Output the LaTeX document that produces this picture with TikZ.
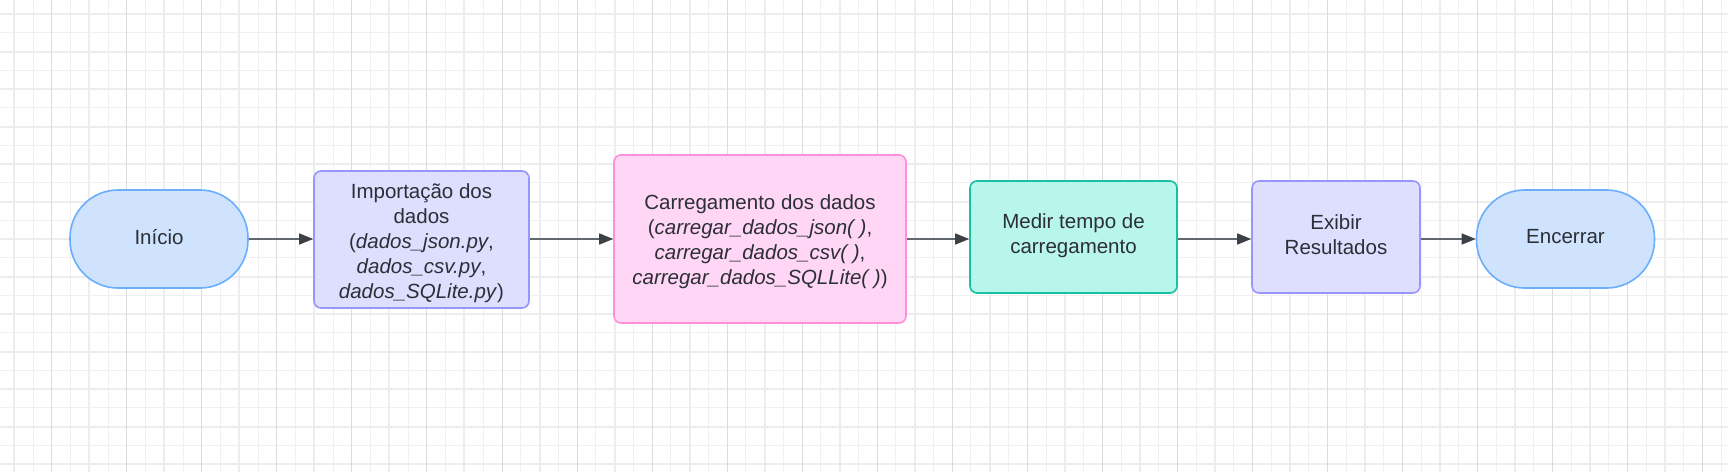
\documentclass[tikz,border=0pt]{standalone}
\usepackage{fontspec}
\setmainfont{Liberation Sans}
\usetikzlibrary{arrows.meta}
\definecolor{gthin}{HTML}{F0F0F0}
\definecolor{gthick}{HTML}{EDEDED}
\definecolor{gdark}{HTML}{DCDCDC}
\definecolor{txt}{HTML}{2B2F36}
\definecolor{bluefill}{HTML}{CFE3FF}
\definecolor{bluedraw}{HTML}{6AAEFC}
\definecolor{purfill}{HTML}{DEDEFF}
\definecolor{purdraw}{HTML}{9896FA}
\definecolor{pinkfill}{HTML}{FFD6F5}
\definecolor{pinkdraw}{HTML}{FF8FDA}
\definecolor{tealfill}{HTML}{B8F5EA}
\definecolor{tealdraw}{HTML}{16C2A2}
\definecolor{lineg}{HTML}{62666D}
\definecolor{tipg}{HTML}{3C4148}
\tikzset{
  base/.style={draw, line width=1.6pt, inner sep=0pt},
  lbl/.style={text=txt, align=center, inner sep=0pt,
    font=\fontsize{20.5}{25}\selectfont},
  terminal/.style={base, fill=bluefill, draw=bluedraw, rounded corners=48pt,
    minimum width=178pt, minimum height=98pt},
  purbox/.style={base, fill=purfill, draw=purdraw, rounded corners=7pt},
  pinkbox/.style={base, fill=pinkfill, draw=pinkdraw, rounded corners=7pt},
  tealbox/.style={base, fill=tealfill, draw=tealdraw, rounded corners=7pt},
  conn/.style={draw=lineg, line width=1.5pt,
    -{Triangle[length=14pt,width=11pt,color=tipg]}}
}
\begin{document}
\begin{tikzpicture}[x=1pt,y=-1pt]
\useasboundingbox (0,0) rectangle (1728,472);
\fill[white] (0,0) rectangle (1728,472);
% grid
\foreach \k in {1,3,...,91}{\draw[gthin, line width=1pt] ({14.3+18.758*\k},0) -- ({14.3+18.758*\k},472);}
\foreach \k in {1,3,...,25}{\draw[gthin, line width=1pt] (0,{14+18.75*\k}) -- (1728,{14+18.75*\k});}
\foreach \k in {0,2,...,24}{\draw[gthick, line width=2pt] (0,{14+18.75*\k}) -- (1728,{14+18.75*\k});}
\foreach \k in {0,4,...,92}{\draw[gthick, line width=2pt] ({14.3+18.758*\k},0) -- ({14.3+18.758*\k},472);}
\foreach \k in {2,6,...,90}{\draw[gdark, line width=1pt] ({14.3+18.758*\k},0) -- ({14.3+18.758*\k},472);}
% nodes
\node[terminal] (inicio) at (159,239) {};
\node[lbl] (inicioT) at ([yshift=2pt]inicio.center) {Início};
\node[purbox, minimum width=215pt, minimum height=137pt] (imp) at (421.5,239.5) {};
\node[lbl] (impT) at ([yshift=-4pt]imp.center)
  {Importação dos\\dados\\(\textit{dados\_json.py},\\\textit{dados\_csv.py},\\\textit{dados\_SQLite.py})};
\node[pinkbox, minimum width=292pt, minimum height=168pt] (carr) at (760,239) {};
\node[lbl] (carrT) at ([yshift=-3pt]carr.center)
  {Carregamento dos dados\\(\textit{carregar\_dados\_json( )},\\\textit{carregar\_dados\_csv( )},\\\textit{carregar\_dados\_SQLLite( )})};
\node[tealbox, minimum width=207pt, minimum height=112pt] (medir) at (1073.5,237) {};
\node[lbl] (medirT) at ([yshift=1pt]medir.center) {Medir tempo de\\carregamento};
\node[purbox, minimum width=168pt, minimum height=112pt] (exibir) at (1336,237) {};
\node[lbl] (exibirT) at ([yshift=2pt]exibir.center) {Exibir\\Resultados};
\node[terminal] (enc) at (1565.5,239) {};
\node[lbl] (encT) at ([yshift=2pt]enc.center) {Encerrar};
% connectors
\draw[conn] (inicio.east |- 0,239) -- (imp.west |- 0,239);
\draw[conn] (imp.east |- 0,239) -- (carr.west |- 0,239);
\draw[conn] (carr.east |- 0,239) -- (medir.west |- 0,239);
\draw[conn] (medir.east |- 0,239) -- (exibir.west |- 0,239);
\draw[conn] (exibir.east |- 0,239) -- (enc.west |- 0,239);
\end{tikzpicture}
\end{document}
